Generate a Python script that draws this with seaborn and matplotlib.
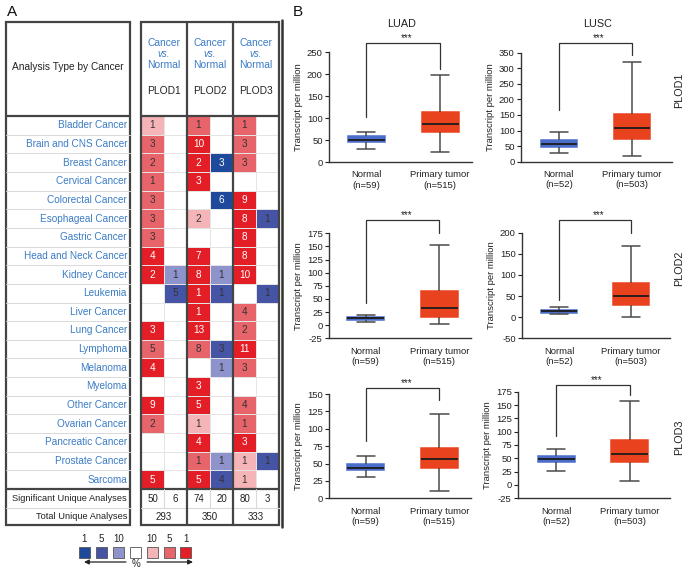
import numpy as np
import pandas as pd
import matplotlib
matplotlib.use("Agg")
import matplotlib.pyplot as plt
import seaborn as sns
from matplotlib.colors import ListedColormap
from matplotlib.patches import Rectangle

sns.set_theme(style="white")
plt.rcParams['font.family'] = ['Liberation Sans', 'DejaVu Sans']
plt.rcParams['axes.unicode_minus'] = False

# ---------------- Panel A data ----------------
cancers = ["Bladder Cancer", "Brain and CNS Cancer", "Breast Cancer", "Cervical Cancer",
           "Colorectal Cancer", "Esophageal Cancer", "Gastric Cancer", "Head and Neck Cancer",
           "Kidney Cancer", "Leukemia", "Liver Cancer", "Lung Cancer", "Lymphoma", "Melanoma",
           "Myeloma", "Other Cancer", "Ovarian Cancer", "Pancreatic Cancer", "Prostate Cancer",
           "Sarcoma"]
genes = ["PLOD1", "PLOD2", "PLOD3"]

# counts of analyses (0 = none); rank = top-% gene rank threshold (1, 5, 10; 0 = none)
plod1_up = [1, 3, 2, 1, 3, 3, 3, 4, 2, 0, 0, 3, 5, 4, 0, 9, 2, 0, 0, 5]
plod1_up_rank = [10, 5, 5, 5, 5, 5, 5, 1, 1, 0, 0, 1, 5, 1, 0, 1, 5, 0, 0, 1]
plod1_down = [0, 0, 0, 0, 0, 0, 0, 0, 1, 5, 0, 0, 0, 0, 0, 0, 0, 0, 0, 0]
plod1_down_rank = [0, 0, 0, 0, 0, 0, 0, 0, 10, 5, 0, 0, 0, 0, 0, 0, 0, 0, 0, 0]
plod2_up = [1, 10, 2, 3, 0, 2, 0, 7, 8, 1, 1, 13, 8, 0, 3, 5, 1, 4, 1, 5]
plod2_up_rank = [5, 1, 1, 1, 0, 10, 0, 1, 1, 1, 1, 1, 5, 0, 1, 1, 10, 1, 5, 1]
plod2_down = [0, 0, 3, 0, 6, 0, 0, 0, 1, 1, 0, 0, 3, 1, 0, 0, 0, 0, 1, 4]
plod2_down_rank = [0, 0, 1, 0, 1, 0, 0, 0, 10, 5, 0, 0, 5, 10, 0, 0, 0, 0, 10, 5]
plod3_up = [1, 3, 3, 0, 9, 8, 8, 8, 10, 0, 4, 2, 11, 3, 0, 4, 1, 3, 1, 1]
plod3_up_rank = [5, 5, 5, 0, 1, 1, 1, 1, 1, 0, 5, 5, 1, 5, 0, 5, 5, 1, 10, 10]
plod3_down = [0, 0, 0, 0, 0, 1, 0, 0, 0, 1, 0, 0, 0, 0, 0, 0, 0, 0, 1, 0]
plod3_down_rank = [0, 0, 0, 0, 0, 5, 0, 0, 0, 5, 0, 0, 0, 0, 0, 0, 0, 0, 5, 0]

sig_counts = [50, 6, 74, 20, 80, 3]
total_counts = [293, 350, 333]
legend_labels = ["1", "5", "10", "", "10", "5", "1"]

# ---------------- Panel B data (min, Q1, median, Q3, max) ----------------
luad_plod1_normal = [30, 45, 51, 58, 68]
luad_plod1_tumor = [22, 69, 87, 113, 197]
lusc_plod1_normal = [27, 48, 58, 69, 96]
lusc_plod1_tumor = [19, 74, 107, 153, 320]
luad_plod2_normal = [6, 10.5, 13, 16, 20]
luad_plod2_tumor = [2, 16, 33, 66, 152]
lusc_plod2_normal = [7.5, 10, 14, 17, 25]
lusc_plod2_tumor = [1, 30, 49, 80, 169]
luad_plod3_normal = [30, 40, 44, 49, 61]
luad_plod3_tumor = [10.5, 43, 56, 72, 121]
lusc_plod3_normal = [27, 44, 48, 54, 67]
lusc_plod3_tumor = [7, 43, 58, 84, 157]
datasets = ["LUAD", "LUSC"]
n_normal = {"LUAD": 59, "LUSC": 52}
n_tumor = {"LUAD": 515, "LUSC": 503}

# ---------------- colours ----------------
RED1, RED5, RED10 = "#e41e26", "#e8646b", "#f4b4b8"
BLUE1, BLUE5, BLUE10 = "#1f4a9c", "#4654a6", "#8e93cb"
TXTBLUE = "#3b7cc6"
GRID = "#444444"
LIGHT = "#d9d9d9"

W, H = 700, 573
fig = plt.figure(figsize=(7.0, 5.73), dpi=100)
fig.patch.set_facecolor("white")


def fx(x):
    return x / W


def fy(y):
    return 1 - y / H


# ---------------- heatmap ----------------
def code(rank, up):
    if rank == 0:
        return 0
    base = {10: 1, 5: 2, 1: 3}[rank]
    return base if up else base + 3


counts_cols = [plod1_up, plod1_down, plod2_up, plod2_down, plod3_up, plod3_down]
rank_cols = [plod1_up_rank, plod1_down_rank, plod2_up_rank, plod2_down_rank, plod3_up_rank, plod3_down_rank]
codes = np.array([[code(rank_cols[j][i], j % 2 == 0) for j in range(6)] for i in range(len(cancers))])
annot = np.array([[str(counts_cols[j][i]) if counts_cols[j][i] else "" for j in range(6)]
                  for i in range(len(cancers))])

top_rows, row_bottom = 116, 489
row_h = (row_bottom - top_rows) / len(cancers)
tx0, tx1 = 141, 279
hx = fig.add_axes([fx(tx0), fy(row_bottom), fx(tx1 - tx0), (row_bottom - top_rows) / H])
cmap = ListedColormap(["white", RED10, RED5, RED1, BLUE10, BLUE5, BLUE1])
sns.heatmap(codes, cmap=cmap, vmin=-0.5, vmax=6.5, cbar=False, linewidths=0.5, linecolor="#e4e4e4",
            annot=annot, fmt="", annot_kws=dict(fontsize=7.2), ax=hx, xticklabels=False, yticklabels=False)
for t, c in zip(hx.texts, codes.flat):
    t.set_color("white" if c in (3, 6) else "#333333")

# ---------------- overlay for table lines / texts ----------------
ov = fig.add_axes([0, 0, 1, 1], zorder=5)
ov.set_xlim(0, W)
ov.set_ylim(H, 0)
ov.axis("off")
ov.patch.set_alpha(0)

ov.text(7, 12, "A", fontsize=11, va="center", ha="left", color="#111")
ov.text(293, 12, "B", fontsize=11, va="center", ha="left", color="#111")

# left table
lx0, lx1, ty0, ty1 = 6, 130, 22, 525
sig_bottom = 508
for i in range(1, len(cancers)):
    y = top_rows + i * row_h
    ov.plot([lx0, lx1], [y, y], color=LIGHT, lw=0.7)
ov.plot([lx0, lx1], [sig_bottom, sig_bottom], color=LIGHT, lw=0.8)
ov.plot([lx0, lx1], [top_rows, top_rows], color=GRID, lw=1.6)
ov.plot([lx0, lx1], [row_bottom, row_bottom], color=GRID, lw=1.6)
ov.add_patch(Rectangle((lx0, ty0), lx1 - lx0, ty1 - ty0, fill=False, ec=GRID, lw=1.6))
ov.text((lx0 + lx1) / 2, 67, "Analysis Type by Cancer", fontsize=7.3, ha="center", va="center", color="#222")
for i, name in enumerate(cancers):
    ov.text(lx1 - 3, top_rows + (i + 0.5) * row_h, name, fontsize=7.2, ha="right", va="center", color=TXTBLUE)
ov.text(lx1 - 3, (row_bottom + sig_bottom) / 2, "Significant Unique Analyses", fontsize=6.7, ha="right",
        va="center", color="#222")
ov.text(lx1 - 3, (sig_bottom + ty1) / 2, "Total Unique Analyses", fontsize=6.7, ha="right", va="center",
        color="#222")

# right table
block_w = (tx1 - tx0) / 3
ov.plot([tx0, tx1], [sig_bottom, sig_bottom], color=LIGHT, lw=0.8)
ov.plot([tx0, tx1], [top_rows, top_rows], color=GRID, lw=1.6)
ov.plot([tx0, tx1], [row_bottom, row_bottom], color=GRID, lw=1.6)
ov.add_patch(Rectangle((tx0, ty0), tx1 - tx0, ty1 - ty0, fill=False, ec=GRID, lw=1.6))
for g, gene in enumerate(genes):
    bx0 = tx0 + g * block_w
    cx = bx0 + block_w / 2
    if g > 0:
        ov.plot([bx0, bx0], [ty0, ty1], color=GRID, lw=1.6)
    ov.plot([cx, cx], [row_bottom, sig_bottom], color=LIGHT, lw=0.8)
    ov.text(cx, 43, "Cancer", fontsize=7.4, ha="center", va="center", color=TXTBLUE)
    ov.text(cx, 54, "vs.", fontsize=7.0, ha="center", va="center", color=TXTBLUE, fontstyle="italic")
    ov.text(cx, 65, "Normal", fontsize=7.4, ha="center", va="center", color=TXTBLUE)
    ov.text(cx, 91, gene, fontsize=7.4, ha="center", va="center", color="#222")
    for k in range(2):
        ov.text(bx0 + block_w * (0.25 + 0.5 * k), (row_bottom + sig_bottom) / 2, str(sig_counts[2 * g + k]),
                fontsize=7.0, ha="center", va="center", color="#222")
    ov.text(cx, (sig_bottom + ty1) / 2, str(total_counts[g]), fontsize=7.0, ha="center", va="center",
            color="#222")

# legend
leg_colors = [BLUE1, BLUE5, BLUE10, "white", RED10, RED5, RED1]
for k, (col, lab) in enumerate(zip(leg_colors, legend_labels)):
    x0 = 79 + k * 16.9
    ov.add_patch(Rectangle((x0, 547), 11, 10.5, fc=col, ec="#555555", lw=0.6))
    ov.text(x0 + 5.5, 539.5, lab, fontsize=7, ha="center", va="center", color="#222")
ov.annotate("", xy=(84, 562), xytext=(126, 562),
            arrowprops=dict(arrowstyle="-|>", color="#222", lw=0.9, mutation_scale=7, shrinkA=0, shrinkB=0))
ov.annotate("", xy=(193, 562), xytext=(147, 562),
            arrowprops=dict(arrowstyle="-|>", color="#222", lw=0.9, mutation_scale=7, shrinkA=0, shrinkB=0))
ov.text(136.5, 564, "%", fontsize=7, ha="center", va="center", color="#222")

# separator between panels
ov.plot([282, 282], [20, 527], color="#333333", lw=1.8)

# column / row titles of panel B
ov.text(402, 24, "LUAD", fontsize=7.8, ha="center", va="center", color="#222")
ov.text(598, 24, "LUSC", fontsize=7.8, ha="center", va="center", color="#222")
for lab, yy in zip(genes, [90, 268, 437]):
    ov.text(679, yy, lab, fontsize=7.8, ha="center", va="center", rotation=90, color="#222")

# ---------------- panel B box plots ----------------
panels = [
    ("LUAD", luad_plod1_normal, luad_plod1_tumor),
    ("LUSC", lusc_plod1_normal, lusc_plod1_tumor),
    ("LUAD", luad_plod2_normal, luad_plod2_tumor),
    ("LUSC", lusc_plod2_normal, lusc_plod2_tumor),
    ("LUAD", luad_plod3_normal, luad_plod3_tumor),
    ("LUSC", lusc_plod3_normal, lusc_plod3_tumor),
]
# layout: (x0, x1, ytop, ybottom) in pixels, ylim, ytick step, bracket (left end, top, right end)
layout = [
    ((329, 472, 52, 162), (0, 250), 50, (102, 270, 211)),
    ((521, 672, 52.7, 161.7), (0, 350), 50, (166, 381, 343)),
    ((329, 471, 233.3, 338.3), (-25, 175), 25, (42, 201, 175)),
    ((522, 670, 232.7, 338.3), (-50, 200), 50, (41, 230, 199)),
    ((329, 471, 394, 498.3), (0, 150), 25, (83, 158, 142)),
    ((518, 670, 391.7, 498.3), (-25, 175), 25, (91, 188, 169)),
]
pal = {"Normal": "#4a6dc9", "Primary tumor": "#e8421e"}

for (ds, normal, tumor), ((x0, x1, yt, yb), ylim, step, br) in zip(panels, layout):
    ax = fig.add_axes([fx(x0), fy(yb), fx(x1 - x0), (yb - yt) / H])
    df = pd.DataFrame({"group": ["Normal"] * len(normal) + ["Primary tumor"] * len(tumor),
                       "value": list(normal) + list(tumor)})
    sns.boxplot(data=df, x="group", y="value", hue="group", palette=pal, whis=(0, 100), width=0.5,
                linewidth=1.1, linecolor="#4a4a4a", showfliers=False, legend=False, saturation=1, ax=ax,
                medianprops=dict(color="#1c1c1c", linewidth=1.3))
    for p in ax.patches:
        p.set_edgecolor(p.get_facecolor())
    # axis ranges: categories at ~26% and ~76% of the axis width
    if ds == "LUAD":
        ax.set_xlim(-0.5, 1.43)
    else:
        ax.set_xlim(-0.52, 1.55)
    ax.set_ylim(*ylim)
    ax.set_yticks(np.arange(ylim[0], ylim[1] + 0.1, step))
    ax.set_yticklabels([f"{int(v)}" for v in np.arange(ylim[0], ylim[1] + 0.1, step)])
    ax.set_xticks([0, 1])
    ax.set_xticklabels([f"Normal\n(n={n_normal[ds]})", f"Primary tumor\n(n={n_tumor[ds]})"])
    ax.set_xlabel("")
    ax.set_ylabel("Transcript per million", fontsize=6.8, color="#222", labelpad=3)
    ax.tick_params(axis="x", length=0, pad=6, labelsize=6.8, colors="#222")
    ax.tick_params(axis="y", left=True, length=3, width=0.8, pad=1.5, labelsize=6.8, colors="#222")
    sns.despine(ax=ax)
    for s in ("left", "bottom"):
        ax.spines[s].set_color("#333333")
        ax.spines[s].set_linewidth(1.0)
    ax.patch.set_alpha(0)
    le, top, re = br
    ax.plot([0, 0, 1, 1], [le, top, top, re], color="#333333", lw=0.9, clip_on=False)
    ax.text(0.55, top, "***", fontsize=7, ha="center", va="bottom", color="#222")

fig.savefig("out.png", dpi=100, facecolor="white")
